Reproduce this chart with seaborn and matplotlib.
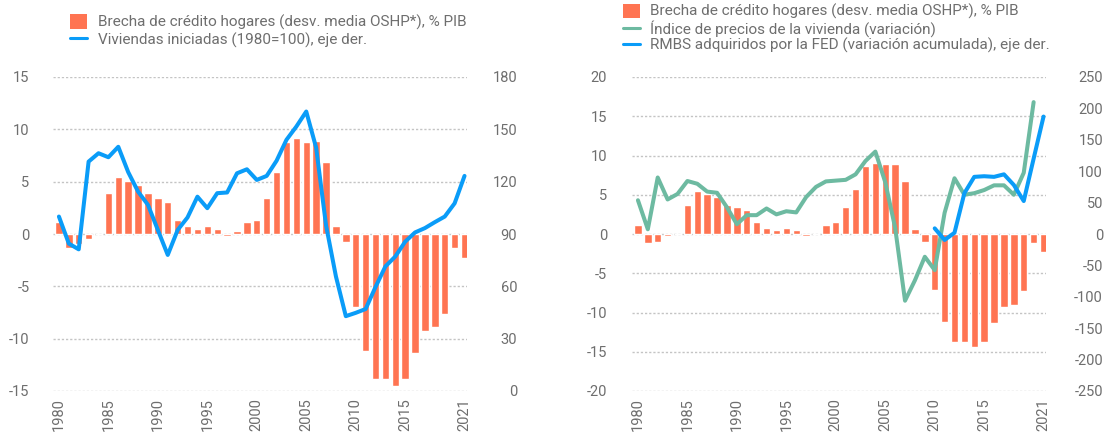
import matplotlib
matplotlib.use("Agg")
import matplotlib.pyplot as plt
import seaborn as sns
import numpy as np
from matplotlib.patches import Patch
from matplotlib.lines import Line2D

# data
years = list(range(1980, 2022))

# credit gap (desv. media OSHP), % PIB - left panel
credit_gap_left = [1.1, -1.3, -1.0, -0.5, 0.0, 3.9, 5.4, 5.1, 4.7, 3.9, 3.4, 3.1, 1.3, 0.8, 0.5, 0.8,
                   0.5, -0.2, 0.3, 1.1, 1.3, 3.4, 5.9, 8.75, 9.2, 8.75, 8.9, 6.9, 0.8, -0.8,
                   -7.0, -11.2, -13.9, -13.9, -14.5, -13.9, -11.4, -9.3, -8.9, -7.6, -1.3, -2.3]
# same series as shown in the right panel
credit_gap_right = [1.1, -1.2, -1.0, -0.25, 0.0, 3.75, 5.5, 5.1, 4.75, 3.75, 3.5, 3.1, 1.5, 0.8, 0.5, 0.75,
                    0.5, -0.25, 0.0, 1.1, 1.5, 3.5, 5.75, 8.6, 9.1, 8.9, 8.9, 6.8, 0.7, -1.0,
                    -7.1, -11.2, -13.8, -13.8, -14.4, -13.8, -11.4, -9.3, -9.1, -7.3, -1.2, -2.3]

# viviendas iniciadas (1980=100)
housing_starts = [100, 84.5, 81.2, 131.5, 136.3, 134, 140, 125.5, 114.3, 106.7, 92.3, 78, 92.3, 99.5,
                  111.4, 104.8, 113.4, 113.8, 124.8, 127.1, 121, 123.3, 132, 144, 151.6, 160.2,
                  139.5, 95, 65.7, 42.9, 44.8, 47, 59.6, 71.4, 77.1, 85.6, 90.9, 93.4, 96.8,
                  100, 107.6, 123.3]

# indice de precios de la vivienda (variacion), no 2021 value
house_prices = [4.3, 0.6, 7.2, 4.4, 5.1, 6.75, 6.4, 5.4, 5.25, 3.4, 1.25, 2.4, 2.4, 3.25, 2.5, 2.9,
                2.75, 4.7, 6.0, 6.7, 6.8, 6.9, 7.6, 9.3, 10.5, 6.6, 0.8, -8.5, -5.9, -2.9,
                -4.6, 2.7, 7.1, 5.0, 5.2, 5.6, 6.2, 6.2, 5.0, 7.8, 16.8, np.nan]

# RMBS adquiridos por la FED (variacion acumulada)
rmbs_years = list(range(2010, 2022))
rmbs = [9, -9.5, 2, 65, 91, 92, 91, 95, 78, 52.5, 120, 187]

bar_color = "#FF7452"
blue = "#0A9CF8"
green = "#6DBAA1"
text_color = "#6E6E6E"

sns.set_style("white")
plt.rcParams['font.family'] = ['Roboto', 'DejaVu Sans']
plt.rcParams['axes.unicode_minus'] = False

fig = plt.figure(figsize=(11.04, 4.33), dpi=100)
axes_left = fig.add_axes([53/1104, 42/433, 414/1104, 314/433])
axes_right = fig.add_axes([632/1104, 42/433, 414/1104, 314/433])


def style_axis(ax, left_pad):
    ax.set_xlim(1979.4, 2021.25)
    ax.set_axisbelow(True)
    ax.grid(axis='y', linestyle=(0, (1.6, 1.4)), color='#C4C4C4', lw=1.0)
    ax.grid(axis='x', visible=False)
    for s in ax.spines.values():
        s.set_visible(False)
    ax.set_xticks([1980, 1985, 1990, 1995, 2000, 2005, 2010, 2015, 2021])
    ax.set_xticklabels(['1980', '1985', '1990', '1995', '2000', '2005', '2010', '2015', '2021'],
                       rotation=90, va='top', ha='center')
    ax.tick_params(axis='x', length=0, pad=5, labelsize=10.5, labelcolor=text_color)
    ax.tick_params(axis='y', length=0, pad=left_pad, labelsize=10.5, labelcolor=text_color)
    ax.set_xlabel('')
    ax.set_ylabel('')


def style_twin(ax2, right_pad):
    for s in ax2.spines.values():
        s.set_visible(False)
    ax2.grid(False)
    ax2.tick_params(axis='y', length=0, pad=right_pad, labelsize=10.5, labelcolor=text_color)
    for lbl in ax2.get_yticklabels():
        lbl.set_ha('right')
    ax2.set_ylabel('')


# ---- left panel ----
sns.barplot(x=years, y=credit_gap_left, native_scale=True, color=bar_color, width=0.75,
            saturation=1, ax=axes_left)
axes_left.set_ylim(-15, 15)
axes_left.set_yticks([-15, -10, -5, 0, 5, 10, 15])
style_axis(axes_left, 17)

tw_left = axes_left.twinx()
sns.lineplot(x=years, y=housing_starts, color=blue, lw=2.9, ax=tw_left)
tw_left.set_ylim(0, 180)
tw_left.set_yticks([0, 30, 60, 90, 120, 150, 180])
style_twin(tw_left, 36)

handles_left = [Patch(facecolor=bar_color, edgecolor='none'),
                Line2D([], [], color=blue, lw=2.2)]
fig.legend(handles_left,
           ['Brecha de crédito hogares (desv. media OSHP*), % PIB',
            'Viviendas iniciadas (1980=100), eje der.'],
           loc='upper left', bbox_to_anchor=(70/1104, 1 - 14/433), frameon=False,
           fontsize=11, labelcolor=text_color, handlelength=1.1, handleheight=1.1,
           handletextpad=0.7, labelspacing=0.15, borderpad=0, borderaxespad=0)

# ---- right panel ----
sns.barplot(x=years, y=credit_gap_right, native_scale=True, color=bar_color, width=0.75,
            saturation=1, ax=axes_right)
sns.lineplot(x=years, y=house_prices, color=green, lw=2.9, ax=axes_right)
axes_right.set_ylim(-20, 20)
axes_right.set_yticks([-20, -15, -10, -5, 0, 5, 10, 15, 20])
style_axis(axes_right, 18)

tw_right = axes_right.twinx()
sns.lineplot(x=rmbs_years, y=rmbs, color=blue, lw=2.9, ax=tw_right)
tw_right.set_ylim(-250, 250)
tw_right.set_yticks(list(range(-250, 251, 50)))
style_twin(tw_right, 41)

handles_right = [Patch(facecolor=bar_color, edgecolor='none'),
                 Line2D([], [], color=green, lw=2.2),
                 Line2D([], [], color=blue, lw=2.2)]
fig.legend(handles_right,
           ['Brecha de crédito hogares (desv. media OSHP*), % PIB',
            'Índice de precios de la vivienda (variación)',
            'RMBS adquiridos por la FED (variación acumulada), eje der.'],
           loc='upper left', bbox_to_anchor=(623/1104, 1 - 4/433), frameon=False,
           fontsize=11, labelcolor=text_color, handlelength=1.1, handleheight=1.0,
           handletextpad=0.7, labelspacing=0.05, borderpad=0, borderaxespad=0)

fig.savefig('out.png', dpi=100)
